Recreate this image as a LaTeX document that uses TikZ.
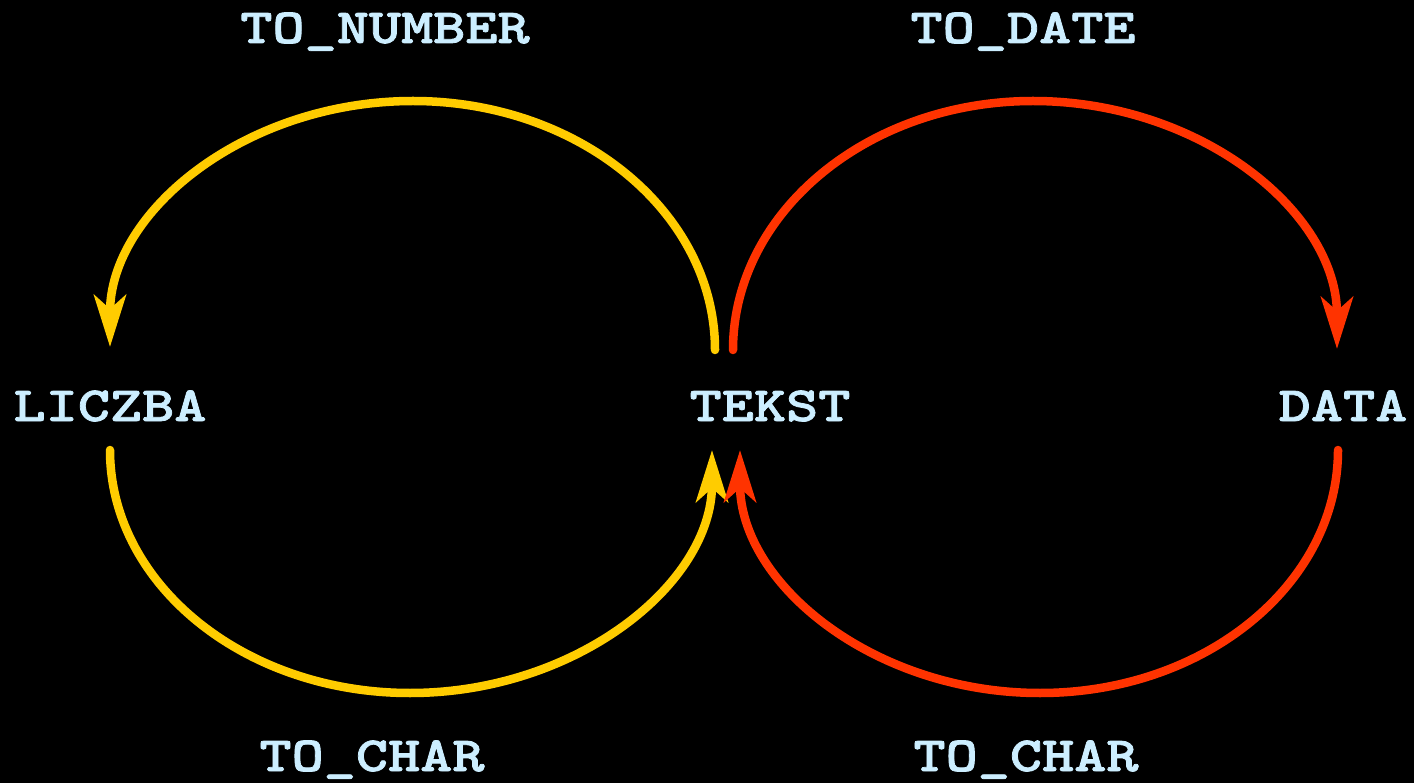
\documentclass[tikz,border=0pt]{standalone}
\usepackage{fontspec}
\newfontfamily\courfont{Latin Modern Mono Light}[FakeStretch=1.25,FakeBold=1.6]
\usetikzlibrary{arrows.meta}
\definecolor{ylw}{HTML}{FFCC00}
\definecolor{rd}{HTML}{FF3300}
\definecolor{txt}{HTML}{CCEEFF}
\begin{document}
\begin{tikzpicture}[x=1pt,y=-1pt,
  lbl/.style={text=txt,font=\courfont\fontsize{49}{49}\selectfont\bfseries,inner sep=0pt,anchor=base},
  conn/.style={line width=8.5pt,line cap=round,-{Stealth[length=52pt,width=32pt,inset=14pt]}}]
\fill[black] (0,0) rectangle (1414,783);
\useasboundingbox (0,0) rectangle (1414,783);
% main nodes
\node[lbl] (liczba) at (110,421) {LICZBA};
\node[lbl] (tekst) at (770,421) {TEKST};
\node[lbl] (data) at (1343,421) {DATA};
% labels
\node[lbl] (tonumber) at (385,43) {TO\_NUMBER};
\node[lbl] (todate) at (1023,43) {TO\_DATE};
\node[lbl] (tochar1) at (372,771) {TO\_CHAR};
\node[lbl] (tochar2) at (1026,771) {TO\_CHAR};
% connector end points
\coordinate (y1s) at (715,350);
\coordinate (y1t) at (413,101);
\coordinate (y1e) at (110,347);
\coordinate (y2s) at (110,450);
\coordinate (y2t) at (410,693);
\coordinate (y2e) at (712,450);
\coordinate (r1s) at (733,350);
\coordinate (r1t) at (1033,101);
\coordinate (r1e) at (1337,349);
\coordinate (r2s) at (1338,450);
\coordinate (r2t) at (1040,693);
\coordinate (r2e) at (740,450);
% yellow loop
\draw[conn,ylw] (y1s) .. controls +(0,-137) and +(167,0) .. (y1t)
  .. controls +(-167,0) and +(0,-136) .. (y1e);
\draw[conn,ylw] (y2s) .. controls +(0,134) and +(-166,0) .. (y2t)
  .. controls +(166,0) and +(0,134) .. (y2e);
% red loop
\draw[conn,rd] (r1s) .. controls +(0,-137) and +(-166,0) .. (r1t)
  .. controls +(167,0) and +(0,-137) .. (r1e);
\draw[conn,rd] (r2s) .. controls +(0,134) and +(165,0) .. (r2t)
  .. controls +(-166,0) and +(0,134) .. (r2e);
\end{tikzpicture}
\end{document}
